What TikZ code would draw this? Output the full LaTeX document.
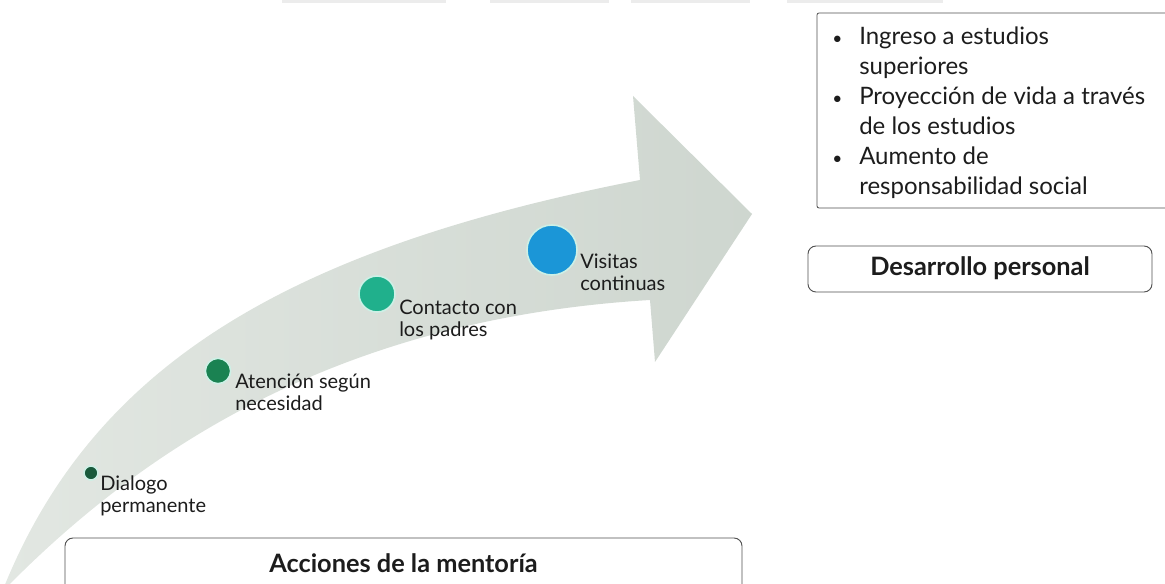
\documentclass[tikz,border=0pt]{standalone}
\usepackage{fontspec}
\setmainfont{Lato}
\usetikzlibrary{shapes.geometric}
\definecolor{arrowA}{RGB}{226,231,226}
\definecolor{arrowB}{RGB}{206,214,207}
\definecolor{cDial}{RGB}{25,90,60}
\definecolor{cAten}{RGB}{26,130,82}
\definecolor{cCont}{RGB}{32,176,140}
\definecolor{cVisi}{RGB}{27,150,215}
\definecolor{halo}{RGB}{205,240,230}
\definecolor{txt}{RGB}{28,28,28}
\definecolor{boxline}{RGB}{80,80,80}
\definecolor{topbar}{RGB}{236,236,236}
\newcommand{\smbul}{{\fontsize{13}{13}\selectfont\textbullet}}
\tikzset{
  dot/.style={circle, draw=halo, line width=1.2pt, inner sep=0pt},
  lbl/.style={anchor=north west, inner sep=0pt, align=left, text=txt,
    font=\fontsize{15}{16.5}\selectfont},
  framebox/.style={draw=boxline, line width=0.7pt, rounded corners=6pt, inner sep=0pt},
  titletext/.style={text=txt, font=\fontsize{19}{22}\selectfont\bfseries, inner sep=0pt}
}
\begin{document}
\begin{tikzpicture}[x=0.75pt,y=-0.75pt]
\useasboundingbox (0,0) rectangle (1165,584);
\clip (0,0) rectangle (1165,584);
% faint bars at the top edge
\fill[topbar] (282,0) rectangle (446,3);
\fill[topbar] (490,0) rectangle (609,3);
\fill[topbar] (631,0) rectangle (750,3);
\fill[topbar] (787,0) rectangle (943,3);
% curved arrow
\shade[left color=arrowA, right color=arrowB]
  (2,592) .. controls (90,370) and (280,250) .. (640,180)
  -- (633,96) -- (752,214) -- (655,362) -- (650,300)
  .. controls (350,318) and (150,440) .. (2,592) -- cycle;
% dots
\node[dot, fill=cDial, minimum size=10.5pt] (d1) at (91,473) {};
\node[dot, fill=cAten, minimum size=19pt] (d2) at (218,371) {};
\node[dot, fill=cCont, minimum size=27pt] (d3) at (377,294) {};
\node[dot, fill=cVisi, minimum size=37.5pt] (d4) at (552,250) {};
% labels
\node[lbl] (l1) at (100,476) {Dialogo\\permanente};
\node[lbl] (l2) at (235,374) {Atención según\\necesidad};
\node[lbl] (l3) at (399,300) {Contacto con\\los padres};
\node[lbl] (l4) at (580,254) {Visitas\\continuas};
% bottom title box
\node[framebox, minimum width=507.75pt, minimum height=46.5pt] (accbox) at (403.5,569) {};
\node[titletext] (acc) at (403.5,563) {Acciones de la mentoría};
% right list box
\draw[draw=boxline, line width=0.6pt, rounded corners=1.5pt] (817,13) rectangle (1175,208);
\node[anchor=north west, inner sep=0pt, text=txt] (lst) at (832,23) {%
  \fontsize{18}{22.5}\selectfont
  \begin{tabular}{@{}p{20.25pt}@{}l@{}}
  \smbul & Ingreso a estudios\\
   & superiores\\
  \smbul & Proyección de vida a través\\
   & de los estudios\\
  \smbul & Aumento de\\
   & responsabilidad social
  \end{tabular}};
% right title box
\node[framebox, minimum width=258pt, minimum height=34.5pt] (desbox) at (980,269) {};
\node[titletext] (des) at (980,268.5) {Desarrollo personal};
\end{tikzpicture}
\end{document}
